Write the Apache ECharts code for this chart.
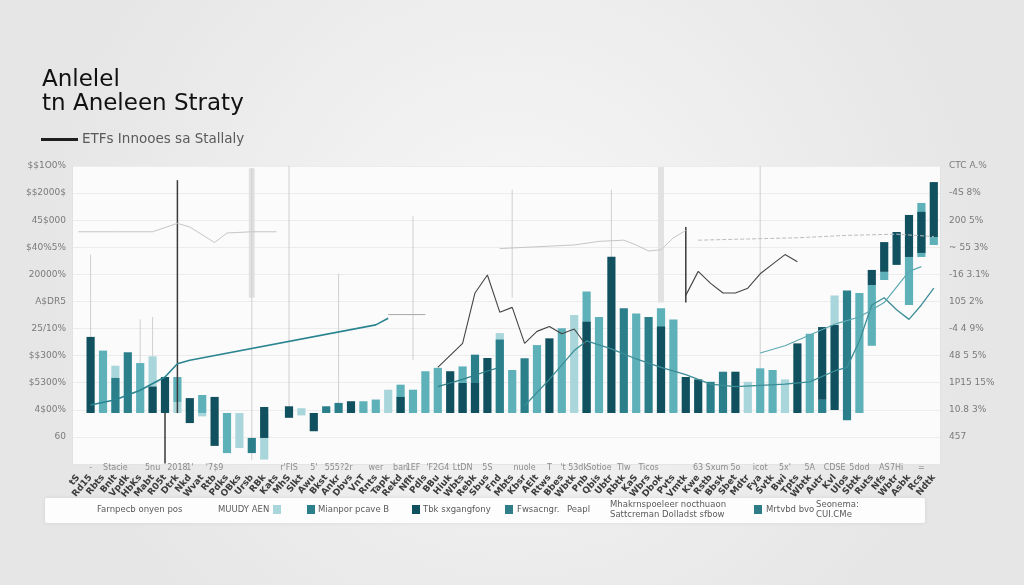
<!DOCTYPE html>
<html><head><meta charset="utf-8"><title>chart</title>
<script src="https://cdn.jsdelivr.net/npm/echarts@6/dist/echarts.min.js"></script>
<style>html,body{margin:0;padding:0;background:#ededed;}#chart{width:1024px;height:585px;}</style>
</head><body><div id="chart"></div>
<script>
// ---------- texts ----------
const titleLines = ['Anlelel', 'tn Aneleen Straty'];
const subtitle = 'ETFs Innooes sa Stallaly';
// bottom -> top
const leftTickLabels = ['', '60', '4$00%', '$5300%', '$$300%', '25/10%', 'A$DR5', '20000%', '$40%5%', '45$000', '$$2000$', '$$1O0%'];
const rightTickLabels = ['', '457', '10.8 3%', '1P15 15%', '48 5 5%', '-4 4 9%', '105 2%', '-16 3.1%', '~ 55 3%', '200 5%', '-4S 8%', 'CTC A.%'];
const categoryLabels = ['tS','Rd15','Rbts','Bnlt','Vpdk','HbKs','Mabt','R05t','Dtrk','Nkd','Wvat','Rtb','Pdks','OBks','Ursb','RBk','Kats','MhS','Slkt','Awu','Bkst','Ankr','Dbvs','VnT','Rnts','Tapk','Rekd','Nflt','Pdls','BBu','Hiuk','Wbts','Rebk','Sbus','Fnd','Mbts','Kbsr','AElt','Rtws','Bbes','Wbtk','Pnb','Qbis','Ubtr','Rbtk','KaS','Wbrs','Dbok','Pvts','Vmtk','Kwe','Rstb','Bbsk','Sbet','Mdtr','Fya','Svtk','Bwi','Tpts','Wbtk','Autr','Kvl','Ulos','Sbtk','Ruts','Nfs','Wbtr','Asbk','Rcs','Ndtk'];
const topRowMarks = {1:'-',3:'Stacie',6:'5nu',8:'2018',9:"1'",11:"'7$9",17:"r'FIS",19:"5'",21:'555?2r',24:'wer',26:'ban',27:'1EF',29:"'F2G4",31:'LtDN',33:'5S',36:'nuole',38:'T',40:"'t 53dk",42:'Sotioe',44:'Tlw',46:'Ticos',51:'63 Sxum',53:'5o',55:'icot',57:"5x'",59:'5A',61:'CDSE',63:'5dod',65:'AS',66:'7Hi',68:'='};
const legendTexts = ['Farnpecb onyen pos','MUUDY AEN','Mianpor pcave B','Tbk sxgangfony','Fwsacngr.','Peapl','Mhakrnspoeleer nocthuaon','Sattcreman Dolladst sfbow','Mrtvbd bvo','Seonema:','CUI.CMe'];

// ---------- bars: [category, low, high] ----------
const paleBars = [[3,0,1.97],[6,0,2.36],[8,0,0.46],[10,-0.14,0],[13,-1.46,0],[15,-1.94,0],[18,-0.1,0.2],[25,0,0.97],[34,0,3.33],[40,0,4.08],[54,0,1.3],[57,0,1.4],[61,0.4,4.9]];
const lightBars = [[2,0,2.6],[5,0,2.08],[8,0.46,1.5],[10,0,0.75],[12,-1.67,0],[23,0,0.49],[24,0,0.56],[26,0,1.18],[27,0,0.97],[28,0,1.74],[29,0,1.88],[31,0,1.94],[35,0,1.79],[37,0,2.83],[39,0,3.53],[41,0,5.06],[42,0,4.0],[45,0,4.15],[47,0,4.36],[48,0,3.9],[55,0,1.86],[56,0,1.79],[59,0,3.3],[63,0,5.0],[64,2.8,5.33],[65,5.54,5.88],[67,4.5,6.5],[68,6.5,8.75],[69,7.0,7.33]];
const midBars = [[3,0,1.46],[4,0,2.53],[14,-1.67,-1.04],[20,0,0.28],[21,0,0.42],[32,0,2.43],[34,0,3.06],[36,0,2.28],[44,0,4.36],[46,0,4.0],[51,0,1.3],[52,0,1.72],[60,0,0.55],[62,-0.3,5.1]];
const darkBars = [[1,0,3.17],[6,0,1.1],[7,0,1.5],[9,-0.42,0.62],[11,-1.37,0.67],[15,-1.04,0.25],[17,-0.2,0.28],[19,-0.76,0],[22,0,0.49],[26,0,0.67],[30,0,1.74],[31,0,1.25],[32,0,1.25],[33,0,2.29],[38,0,3.11],[41,0,3.8],[43,0,6.51],[47,0,3.6],[49,0,1.5],[50,0,1.4],[53,0,1.72],[58,0,2.9],[60,0.55,3.58],[61,0.12,3.67],[64,5.33,5.96],[65,5.88,7.12],[66,6.17,7.54],[67,6.5,8.25],[68,6.67,8.38],[69,7.33,9.62]];

// ---------- thin vertical whiskers: [category, low, high] ----------
const bandWhiskers = [[47,4.6,10.25],[14,4.8,10.2]];
const lightWhiskers = [[1,0.5,6.6],[5,0,3.9],[6,2.3,4.0],[14,-1.96,10.2],[17,0,10.3],[21,0,5.8],[27,2.2,8.2],[35,4.8,9.3],[43,6.4,9.3],[55,1.7,10.3]];
const darkWhiskers = [[8,0,9.7],[7,-2.1,0],[49,4.6,7.75]];

// ---------- lines: [category, value] ----------
const lineTeal = [[1,0.33],[3,0.55],[5,0.95],[7,1.5],[8,2.05],[9,2.2],[24,3.67],[25,3.95]];
const lineGrayShort = [[25,4.1],[28,4.1]];
const lineDarkTeal = [[29,1.1],[31,1.4],[33,1.75],[34,1.9]];
const lineMidTeal = [[36,0.3],[38,1.4],[40,2.6],[41,3.0],[43,2.67],[45,2.25],[47,1.9],[49,1.6],[51,1.2],[53,1.1],[55,1.15],[57,1.2],[59,1.3],[61,1.75],[62,1.9],[63,3.0],[64,4.5],[65,4.8],[66,4.3],[67,3.9],[68,4.5],[69,5.2]];
const lineLightTeal = [[55,2.5],[57,2.8],[59,3.25],[61,3.7],[63,4.0],[65,4.6],[67,5.9],[68,6.1]];
const linePriceA = [[29,1.9],[31,2.9],[32,5.0],[33,5.75],[34,4.2],[35,4.4],[36,2.9],[37,3.4],[38,3.6],[39,3.3],[40,3.5],[41,2.8]];
const linePriceB = [[49,4.9],[50,5.9],[51,5.4],[52,5.0],[53,5.0],[54,5.2],[55,5.8],[56,6.2],[57,6.6],[58,6.3]];
const lineGrayA = [[0,7.55],[3,7.55],[6,7.55],[8,7.9],[9,7.75],[11,7.1],[12,7.5],[14,7.55],[16,7.55]];
const lineGrayB = [[34,6.85],[36,6.9],[38,6.95],[40,7.0],[42,7.15],[44,7.2],[45,7.0],[46,6.75],[47,6.8],[48,7.3],[49,7.6]];
const lineGrayDash = [[50,7.2],[54,7.25],[58,7.3],[62,7.4],[66,7.45],[69,7.35]];

// ---------- build ----------
const topRowLabels = categoryLabels.map((_, i) => topRowMarks[i] || '');
const FONT = 'DejaVu Sans';

function barRender(color) {
  return function (params, api) {
    const x = api.value(0);
    const p1 = api.coord([x, api.value(1)]);
    const p2 = api.coord([x, api.value(2)]);
    const w = api.size([1, 0])[0] * 0.66;
    return { type: 'rect', shape: { x: p1[0] - w / 2, y: Math.min(p1[1], p2[1]), width: w, height: Math.abs(p1[1] - p2[1]) }, style: { fill: color } };
  };
}
function whiskerRender(color, width) {
  return function (params, api) {
    const x = api.value(0);
    const p1 = api.coord([x, api.value(1)]);
    const p2 = api.coord([x, api.value(2)]);
    return { type: 'line', shape: { x1: p1[0], y1: p1[1], x2: p2[0], y2: p2[1] }, style: { stroke: color, lineWidth: width } };
  };
}
function customSeries(data, render, z) {
  return { type: 'custom', xAxisIndex: 0, yAxisIndex: 2, data: data, encode: { x: 0, y: [1, 2] }, renderItem: render, z: z, silent: true };
}
function lineSeries(data, color, width, dashed) {
  return { type: 'line', xAxisIndex: 0, yAxisIndex: 2, data: data, symbol: 'none', z: 5, silent: true,
    lineStyle: { color: color, width: width, type: dashed ? 'dashed' : 'solid' } };
}

const graphics = [
  { type: 'text', left: 42, top: 69, style: { text: titleLines[0], font: '23px "' + FONT + '"', fill: '#111111' } },
  { type: 'text', left: 42, top: 93, style: { text: titleLines[1], font: '23px "' + FONT + '"', fill: '#111111' } },
  { type: 'rect', shape: { x: 41, y: 138, width: 37, height: 3 }, style: { fill: '#1e1e1e' } },
  { type: 'text', left: 82, top: 132, style: { text: subtitle, font: '13.5px "' + FONT + '"', fill: '#5a5a5a' } },
  { type: 'rect', shape: { x: 45, y: 498, width: 880, height: 25, r: 2 }, style: { fill: '#fdfdfd', shadowBlur: 4, shadowColor: 'rgba(0,0,0,0.08)' } }
];
const lf = '8.5px "' + FONT + '"';
function ltext(x, y, t) { graphics.push({ type: 'text', x: x, y: y, style: { text: t, font: lf, fill: '#5a5a5a', textVerticalAlign: 'middle' } }); }
function lswatch(x, c) { graphics.push({ type: 'rect', shape: { x: x, y: 505, width: 8, height: 9 }, style: { fill: c } }); }
ltext(97, 510, legendTexts[0]);
ltext(218, 510, legendTexts[1]); lswatch(273, '#a9d6da');
lswatch(307, '#2b7f8b'); ltext(318, 510, legendTexts[2]);
lswatch(412, '#11505f'); ltext(423, 510, legendTexts[3]);
lswatch(505, '#2f7d88'); ltext(517, 510, legendTexts[4]); ltext(567, 510, legendTexts[5]);
ltext(610, 505, legendTexts[6]); ltext(610, 515, legendTexts[7]);
lswatch(754, '#2d7c87'); ltext(766, 510, legendTexts[8]);
ltext(816, 505, legendTexts[9]); ltext(816, 515, legendTexts[10]);

const chart = echarts.init(document.getElementById('chart'), null, { renderer: 'canvas' });
chart.setOption({
  animation: false,
  backgroundColor: { type: 'radial', x: 0.5, y: 0.45, r: 0.8, colorStops: [{ offset: 0, color: '#f7f7f7' }, { offset: 1, color: '#e6e6e6' }] },
  textStyle: { fontFamily: FONT },
  grid: { left: 72, right: 84, top: 166, bottom: 121, containLabel: false, outerBoundsMode: 'none', show: true, backgroundColor: '#fbfbfb', borderWidth: 0 },
  xAxis: [
    { type: 'category', data: topRowLabels, boundaryGap: true, position: 'bottom',
      axisLine: { show: true, lineStyle: { color: '#e4e4e4' } }, axisTick: { show: false },
      axisLabel: { interval: 0, margin: 0, fontSize: 8, color: '#8c8c8c', fontFamily: FONT }, splitLine: { show: false } },
    { type: 'category', data: categoryLabels, boundaryGap: true, position: 'bottom', offset: 10,
      axisLine: { show: false }, axisTick: { show: false },
      axisLabel: { interval: 0, rotate: 50, margin: 2, fontSize: 9, fontWeight: 'bold', color: '#3c3c3c', fontFamily: FONT }, splitLine: { show: false } }
  ],
  yAxis: [
    { type: 'value', position: 'left', min: 0, max: 11, interval: 1,
      axisLine: { show: true, lineStyle: { color: '#e2e2e2' } }, axisTick: { show: false },
      axisLabel: { margin: 6, fontSize: 9, color: '#7a7a7a', fontFamily: FONT, formatter: v => leftTickLabels[v] },
      splitLine: { show: true, lineStyle: { color: '#ececec', width: 1 } } },
    { type: 'value', position: 'right', min: 0, max: 11, interval: 1,
      axisLine: { show: true, lineStyle: { color: '#e2e2e2' } }, axisTick: { show: false },
      axisLabel: { margin: 9, fontSize: 9, color: '#7a7a7a', fontFamily: FONT, formatter: v => rightTickLabels[v] },
      splitLine: { show: false } },
    { type: 'value', min: -2.125, max: 10.29, show: false, splitLine: { show: false } }
  ],
  graphic: graphics,
  series: [
    customSeries(bandWhiskers, whiskerRender('#e2e2e2', 6), 1),
    customSeries(lightWhiskers, whiskerRender('#cfcfcf', 1), 1),
    customSeries(paleBars, barRender('#a9d6da'), 2),
    customSeries(lightBars, barRender('#5eb1b9'), 2),
    customSeries(midBars, barRender('#2b7f8b'), 2),
    customSeries(darkBars, barRender('#11505f'), 2),
    customSeries(darkWhiskers, whiskerRender('#3a3a3a', 1.5), 4),
    lineSeries(lineGrayA, '#c6c6c6', 1, false),
    lineSeries(lineGrayB, '#c6c6c6', 1, false),
    lineSeries(lineGrayDash, '#bdbdbd', 1, true),
    lineSeries(lineGrayShort, '#a8a8a8', 1, false),
    lineSeries(lineTeal, '#2a8591', 1.6, false),
    lineSeries(lineDarkTeal, '#2f7f89', 1.2, false),
    lineSeries(lineMidTeal, '#3c8d96', 1.3, false),
    lineSeries(lineLightTeal, '#5ea9b1', 1.2, false),
    lineSeries(linePriceA, '#454545', 1.1, false),
    lineSeries(linePriceB, '#454545', 1.1, false)
  ]
});
</script></body></html>
